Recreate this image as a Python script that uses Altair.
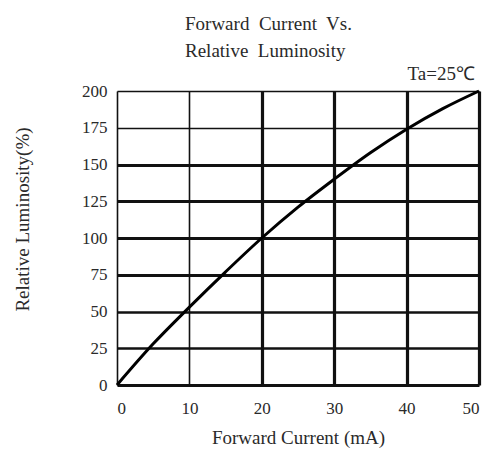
import altair as alt
import pandas as pd

current = [0, 5, 10, 15, 20, 25, 30, 35, 40, 45, 50]
luminosity = [0, 28, 53, 77, 100, 121, 140, 158, 174, 188, 200]
x_ticks = [0, 10, 20, 30, 40, 50]
y_ticks = [0, 25, 50, 75, 100, 125, 150, 175, 200]
title_lines = ["Forward\u00a0 Current\u00a0 Vs.", "Relative\u00a0 Luminosity"]
note = ["Ta=25\u2103"]

df = pd.DataFrame({"current": current, "lum": luminosity})
note_df = pd.DataFrame({"current": [x_ticks[-1]], "lum": [y_ticks[-1]], "t": note})

FONT = "Liberation Serif"
TXT = "#2a2a2a"

x_enc = alt.X(
    "current:Q",
    scale=alt.Scale(domain=[0, 50], nice=False),
    axis=alt.Axis(
        values=x_ticks,
        title="Forward Current (mA)",
        grid=True,
        gridColor="#111111",
        gridWidth={"condition": {"test": "datum.value <= 10", "value": 1.6}, "value": 3.2},
        gridOpacity=1,
        domain=False,
        ticks=False,
        labelOverlap=False,
        labelPadding=15,
        labelFont=FONT,
        labelFontSize=17,
        labelColor=TXT,
        titleFont=FONT,
        titleFontSize=19,
        titleFontWeight="normal",
        titleColor=TXT,
        titlePadding=12,
    ),
)
y_enc = alt.Y(
    "lum:Q",
    scale=alt.Scale(domain=[0, 200], nice=False),
    axis=alt.Axis(
        values=y_ticks,
        tickCount=9,
        title="Relative Luminosity(%)",
        grid=True,
        gridColor="#111111",
        gridWidth={
            "condition": [
                {"test": "datum.value >= 175", "value": 1.6},
                {"test": "datum.value == 25 || datum.value == 50", "value": 2.4},
            ],
            "value": 3.2,
        },
        gridOpacity=1,
        domain=False,
        ticks=False,
        labelOverlap=False,
        labelPadding=10,
        labelFont=FONT,
        labelFontSize=17,
        labelColor=TXT,
        titleFont=FONT,
        titleFontSize=19,
        titleFontWeight="normal",
        titleColor=TXT,
        titlePadding=49,
        titleY=128,
    ),
)

line = alt.Chart(df).mark_line(color="#000000", strokeWidth=3, interpolate="monotone").encode(
    x=x_enc, y=y_enc
)

label = alt.Chart(note_df).mark_text(
    font=FONT, fontSize=19, color=TXT, align="right", baseline="alphabetic", dx=-4, dy=-11
).encode(x=x_enc, y=y_enc, text="t:N")

chart = (
    alt.layer(line, label)
    .properties(
        width=362,
        height=294,
        padding={"left": 109, "top": 83, "right": 9, "bottom": 64},
        autosize=alt.AutoSizeParams(type="none"),
        title=alt.TitleParams(
            text=title_lines,
            anchor="start",
            frame="group",
            dx=68,
            offset=4,
            font=FONT,
            fontSize=19,
            fontWeight="normal",
            color=TXT,
            lineHeight=27,
        ),
    )
    .configure_view(stroke=None)
    .configure(background="white")
)

chart.save("out.html", embed_options={"renderer": "svg", "actions": False})
